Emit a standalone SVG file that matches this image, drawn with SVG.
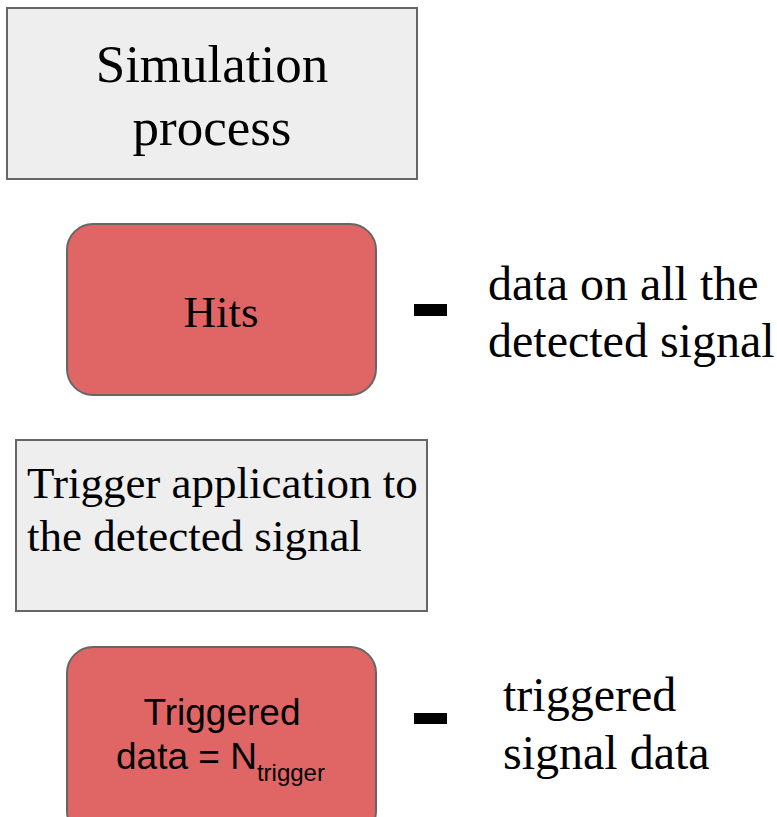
<svg xmlns="http://www.w3.org/2000/svg" width="777" height="817" viewBox="0 0 777 817">
<style>
.gbox{fill:#eeeeee;stroke:#666666;stroke-width:2}
.rbox{fill:#e06666;stroke:#666666;stroke-width:2}
.serif{font-family:"Liberation Serif","Times New Roman",serif;fill:#000}
.sans{font-family:"Liberation Sans",Arial,sans-serif;fill:#000}
.dash{fill:#000}
</style>
<rect width="777" height="817" fill="#ffffff"/>
<g id="simulation">
<rect class="gbox" x="7" y="8" width="410" height="171"/>
<text class="serif" font-size="53" text-anchor="middle" x="212" y="82">Simulation</text>
<text class="serif" font-size="53" text-anchor="middle" x="212" y="145">process</text>
</g>
<g id="hits">
<rect class="rbox" x="67" y="224" width="309" height="171" rx="26"/>
<text class="serif" font-size="45" text-anchor="middle" x="221" y="327">Hits</text>
</g>
<g id="hits-label">
<rect class="dash" x="414" y="304" width="33" height="12"/>
<text class="serif" font-size="48" x="488" y="300">data on all the</text>
<text class="serif" font-size="48" x="488" y="357">detected signal</text>
</g>
<g id="trigger">
<rect class="gbox" x="16" y="440" width="411" height="171"/>
<text class="serif" font-size="45" x="27" y="498">Trigger application to</text>
<text class="serif" font-size="45" x="27" y="551">the detected signal</text>
</g>
<g id="triggered">
<rect class="rbox" x="67" y="647" width="309" height="190" rx="26"/>
<text class="sans" font-size="37" text-anchor="middle" x="222" y="725">Triggered</text>
<text class="sans" font-size="37" x="116" y="769">data = N<tspan font-size="24" dy="12">trigger</tspan></text>
</g>
<g id="triggered-label">
<rect class="dash" x="414" y="713" width="33" height="11"/>
<text class="serif" font-size="48" x="503" y="711">triggered</text>
<text class="serif" font-size="48" x="503" y="769">signal data</text>
</g>
<g id="connectors"></g>
</svg>
